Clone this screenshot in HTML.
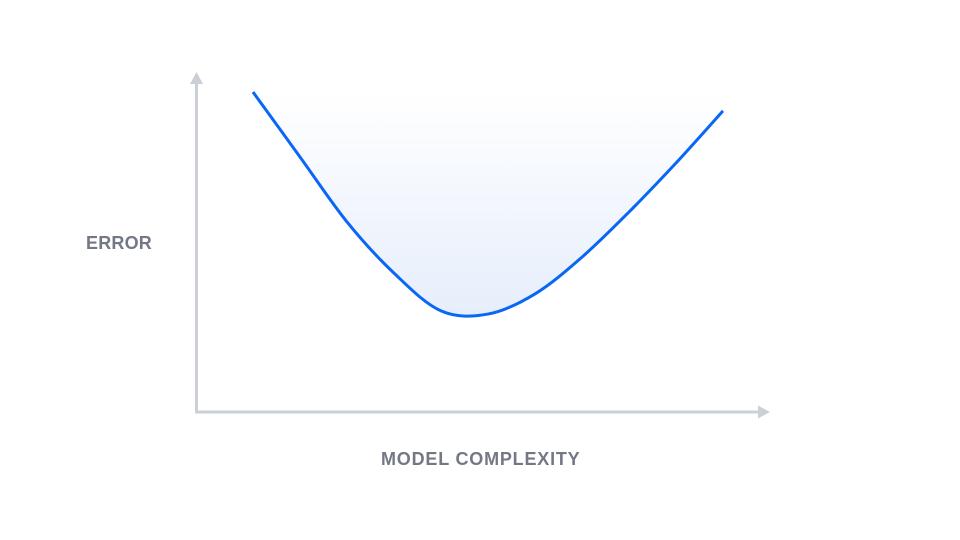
<!DOCTYPE html>
<html><head><meta charset="utf-8"><style>
html,body{margin:0;padding:0;background:#fff;}
svg{display:block;}
text{font-family:"Liberation Sans",sans-serif;font-weight:bold;fill:#737884;font-size:18px;}
</style></head><body>
<svg id="chart" width="960" height="540">
<defs><linearGradient id="fillGrad" x1="0" y1="0" x2="0" y2="1">
<stop offset="0" stop-color="#ffffff"/><stop offset="1" stop-color="#e6eefb"/></linearGradient></defs>
<g id="plot"></g>
<line x1="196.5" y1="82" x2="196.5" y2="412" stroke="#cbd0d6" stroke-width="3"/>
<polygon points="190,84 203,84 196.5,72" fill="#cbd0d6"/>
<line x1="195" y1="412" x2="760" y2="412" stroke="#cbd0d6" stroke-width="3"/>
<polygon points="758,405.5 758,418.5 770,412" fill="#cbd0d6"/>
<text x="86" y="249" letter-spacing="0.2">ERROR</text>
<text x="381" y="465" letter-spacing="0.8">MODEL COMPLEXITY</text>
</svg>
<script>
const complexity = [0,1,2,3,4,5,6,7,8,9,10];
const errorValues = [100,79.7,59.4,43.4,31.6,30.6,36.9,48.4,62.5,77.8,94.1];
function xs(v){return 253 + v*47;}
function ys(v){return 412 - v*3.2;}
const pts = complexity.map((c,i)=>[xs(c),ys(errorValues[i])]);
function spline(p){
  let d = "M"+p[0][0]+","+p[0][1];
  for(let i=0;i<p.length-1;i++){
    const p0=p[i-1]||p[i], p1=p[i], p2=p[i+1], p3=p[i+2]||p[i+1];
    const c1=[p1[0]+(p2[0]-p0[0])/6, p1[1]+(p2[1]-p0[1])/6];
    const c2=[p2[0]-(p3[0]-p1[0])/6, p2[1]-(p3[1]-p1[1])/6];
    d+=" C"+c1[0]+","+c1[1]+" "+c2[0]+","+c2[1]+" "+p2[0]+","+p2[1];
  }
  return d;
}
const g = document.getElementById('plot');
const ns = "http://www.w3.org/2000/svg";
const lineD = spline(pts);
const topY = Math.min(...pts.map(p=>p[1]));
const area = document.createElementNS(ns,'path');
area.setAttribute('d', lineD + " L"+pts[pts.length-1][0]+","+topY+" L"+pts[0][0]+","+topY+" Z");
area.setAttribute('fill','url(#fillGrad)');


g.appendChild(area);
const line = document.createElementNS(ns,'path');
line.setAttribute('d', lineD);
line.setAttribute('fill','none');
line.setAttribute('stroke','#0a66f5');
line.setAttribute('stroke-width','3');


g.appendChild(line);
</script>
</body></html>
